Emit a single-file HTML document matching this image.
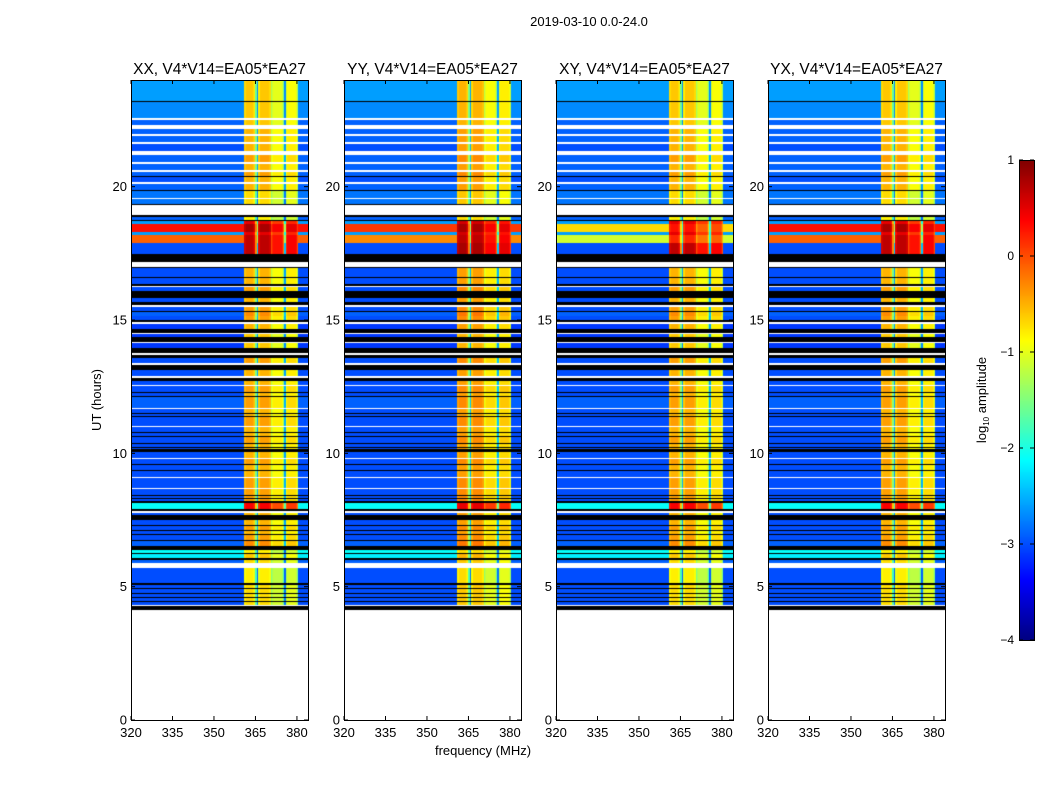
<!DOCTYPE html>
<html><head><meta charset="utf-8">
<style>
body{margin:0;background:#fff;width:1050px;height:800px;overflow:hidden;font-family:"Liberation Sans",sans-serif;}
#wrap{position:relative;width:1050px;height:800px;}
canvas{position:absolute;}
svg{position:absolute;left:0;top:0;}
</style></head>
<body><div id="wrap">
<canvas id="c0" width="177" height="640" style="left:131px;top:80px"></canvas>
<canvas id="c1" width="177" height="640" style="left:344px;top:80px"></canvas>
<canvas id="c2" width="177" height="640" style="left:556px;top:80px"></canvas>
<canvas id="c3" width="177" height="640" style="left:768px;top:80px"></canvas>
<canvas id="cb" width="15" height="480" style="left:1019px;top:160px"></canvas>
<svg id="ax" width="1050" height="800"></svg>
</div>
<script>
const panelTitles=["XX, V4*V14=EA05*EA27","YY, V4*V14=EA05*EA27","XY, V4*V14=EA05*EA27","YX, V4*V14=EA05*EA27"];
const panelLefts=[131,344,556,768];
const xTicks=[320,335,350,365,380];
const yTicks=[0,5,10,15,20];
const cbTicks=[1,0,-1,-2,-3,-4];
const panelHotShift=[0,-0.2,-1.0,0];
const panelBandShift=[0,0.1,0,0];
const bandFreqStart=361;
const bandOffsets=[0.1,0.2,0.2,0.2,0.2,0.2,0.1,0,-0.8,-1.9,0,0.2,0.2,0.2,0.2,0.2,0.2,0.2,0.1,-0.5,-0.3,-0.2,-0.2,-0.2,-0.2,-0.2,-0.2,-0.3,-0.7,-1.9,-0.3,-0.1,-0.1,-0.1,-0.1,-0.1,-0.1,-0.2,-0.5];
// [startHour, endHour, type, bgLevel, bandLevel]
const rowSegments=[
[24.0,23.21,'d',-2.6,-0.8],[23.21,23.18,'k'],[23.18,22.58,'d',-2.7,-0.8],[22.58,22.5,'w'],[22.5,22.31,'d',-2.9,-0.8],
[22.31,22.16,'w'],[22.16,21.98,'d',-2.9,-0.7],[21.98,21.9,'w'],[21.9,21.68,'d',-2.9,-0.7],[21.68,21.6,'w'],
[21.6,21.34,'d',-3.0,-0.7],[21.34,21.19,'w'],[21.19,20.93,'d',-2.9,-0.6],[20.93,20.85,'w'],[20.85,20.63,'d',-2.9,-0.7],
[20.63,20.55,'w'],[20.55,20.4,'d',-2.9,-0.6],[20.4,20.36,'k'],[20.36,20.18,'d',-3.0,-0.7],[20.18,20.1,'w'],
[20.1,19.88,'d',-2.9,-0.7],[19.88,19.84,'k'],[19.84,19.58,'d',-2.8,-0.9],[19.58,19.54,'w'],[19.54,19.35,'d',-2.8,-0.9],
[19.35,19.31,'k'],[19.31,18.94,'w'],[18.94,18.86,'k'],[18.86,18.75,'d',-2.9,-1.0],[18.75,18.71,'k'],
[18.71,18.6,'d',-2.6,0.3],[18.6,18.3,'h',0.3,0.6],[18.3,18.19,'d',-2.6,0.3],[18.19,17.89,'h',-0.1,0.5],
[17.89,17.48,'d',-3.0,0.5],[17.48,17.18,'k'],[17.18,16.99,'w'],[16.99,16.95,'k'],[16.95,16.61,'d',-3.0,-0.7],
[16.61,16.58,'k'],[16.58,16.35,'d',-3.0,-0.7],[16.35,16.28,'k'],[16.28,16.24,'w'],[16.24,16.09,'d',-3.0,-0.6],
[16.09,15.83,'k'],[15.83,15.68,'d',-3.0,-0.7],[15.68,15.56,'k'],[15.56,15.49,'w'],[15.49,15.34,'d',-3.0,-0.6],
[15.34,15.3,'k'],[15.3,15.15,'d',-2.9,-0.5],[15.15,15.0,'d',-3.0,-0.6],[15.0,14.93,'k'],[14.93,14.85,'w'],
[14.85,14.66,'d',-3.1,-0.7],[14.66,14.51,'k'],[14.51,14.48,'w'],[14.48,14.36,'d',-3.1,-0.8],[14.36,14.18,'k'],
[14.18,14.14,'w'],[14.14,13.95,'d',-3.1,-0.8],[13.95,13.76,'k'],[13.76,13.69,'w'],[13.69,13.58,'k'],
[13.58,13.39,'d',-3.0,-0.6],[13.39,13.31,'w'],[13.31,13.13,'k'],[13.13,12.9,'d',-3.0,-0.7],[12.9,12.83,'w'],
[12.83,12.71,'k'],[12.71,12.56,'d',-3.0,-0.7],[12.56,12.53,'w'],[12.53,12.3,'d',-3.0,-0.6],[12.3,12.26,'k'],
[12.26,12.15,'d',-3.0,-0.7],[12.15,12.11,'k'],[12.11,11.7,'d',-2.9,-0.6],[11.7,11.66,'w'],[11.66,11.51,'d',-3.0,-0.7],
[11.51,11.48,'k'],[11.48,11.4,'d',-3.0,-0.7],[11.4,11.36,'k'],[11.36,11.03,'d',-3.0,-0.6],[11.03,10.99,'w'],
[10.99,10.8,'d',-3.0,-0.7],[10.8,10.76,'k'],[10.76,10.65,'d',-3.0,-0.7],[10.65,10.61,'k'],[10.61,10.39,'d',-3.0,-0.6],
[10.39,10.35,'k'],[10.35,10.24,'d',-3.0,-0.7],[10.24,10.2,'k'],[10.2,10.16,'d',-3.0,-0.7],[10.16,10.05,'k'],
[10.05,9.83,'d',-3.0,-0.7],[9.83,9.79,'w'],[9.79,9.6,'d',-3.0,-0.6],[9.6,9.56,'k'],[9.56,9.38,'d',-3.0,-0.7],
[9.38,9.34,'k'],[9.34,9.11,'d',-3.0,-0.7],[9.11,9.08,'w'],[9.08,8.7,'d',-3.0,-0.6],[8.7,8.66,'w'],
[8.66,8.44,'d',-3.0,-0.6],[8.44,8.4,'k'],[8.4,8.33,'d',-3.0,-0.6],[8.33,8.29,'k'],[8.29,8.21,'d',-3.0,-0.6],
[8.21,8.14,'k'],[8.14,7.91,'d',-2.1,0.2],[7.91,7.84,'k'],[7.84,7.76,'w'],[7.76,7.69,'d',-3.0,-0.7],
[7.69,7.5,'k'],[7.5,7.31,'d',-3.0,-0.7],[7.31,7.28,'k'],[7.28,7.13,'d',-3.0,-0.6],[7.13,7.09,'k'],
[7.09,6.98,'d',-3.0,-0.7],[6.98,6.94,'k'],[6.94,6.75,'d',-3.0,-0.6],[6.75,6.71,'k'],[6.71,6.53,'d',-2.9,-0.5],
[6.53,6.38,'k'],[6.38,6.26,'d',-2.1,-1.0],[6.26,6.23,'k'],[6.23,6.08,'d',-2.2,-0.8],[6.08,6.0,'k'],
[6.0,5.89,'d',-2.9,-0.9],[5.89,5.7,'w'],[5.7,5.14,'d',-3.0,-1.0],[5.14,5.06,'k'],[5.06,4.95,'d',-3.0,-0.9],
[4.95,4.91,'k'],[4.91,4.76,'d',-3.0,-0.9],[4.76,4.73,'k'],[4.73,4.61,'d',-3.0,-0.9],[4.61,4.58,'k'],
[4.58,4.46,'d',-3.0,-0.9],[4.46,4.43,'k'],[4.43,4.31,'d',-3.0,-0.9],[4.31,4.28,'w'],[4.28,4.13,'k']
];
const F0=320,F1=384,H0=0,H1=24,PW=177,PH=640,PT=80;
function xs(f){return (f-F0)/(F1-F0)*PW;}
function ys(h){return (H1-h)/(H1-H0)*PH;}
function jet(v){
  let t=(v+4)/5; t=Math.max(0,Math.min(1,t));
  const r=Math.max(0,Math.min(1,1.5-Math.abs(4*t-3)));
  const g=Math.max(0,Math.min(1,1.5-Math.abs(4*t-2)));
  const b=Math.max(0,Math.min(1,1.5-Math.abs(4*t-1)));
  return `rgb(${Math.round(r*255)},${Math.round(g*255)},${Math.round(b*255)})`;
}
for(let p=0;p<4;p++){
  const ctx=document.getElementById('c'+p).getContext('2d');
  ctx.fillStyle='#fff';ctx.fillRect(0,0,PW,PH);
  rowSegments.forEach(s=>{
    const y0=Math.round(ys(s[0])),y1=Math.max(Math.round(ys(s[1])),Math.round(ys(s[0]))+1);
    if(s[2]==='w'){ctx.fillStyle='#fff';ctx.fillRect(0,y0,PW,y1-y0);return;}
    if(s[2]==='k'){ctx.fillStyle='#000';ctx.fillRect(0,y0,PW,y1-y0);return;}
    let bg=s[3],band=s[4]+panelBandShift[p];
    if(s[2]==='h'){bg+=panelHotShift[p];band+=panelHotShift[p]*0.5;}
    ctx.fillStyle=jet(bg);ctx.fillRect(0,y0,PW,y1-y0);
    bandOffsets.forEach((o,i)=>{
      const f=bandFreqStart+i*0.5;
      let v=band+o; if(o<=-1.5) v=Math.min(v,bg+0.6);
      ctx.fillStyle=jet(v);
      const xa=Math.round(xs(f)),xb=Math.round(xs(f+0.5));
      ctx.fillRect(xa,y0,Math.max(1,xb-xa),y1-y0);
    });
  });
}
const cb=document.getElementById('cb').getContext('2d');
for(let i=0;i<480;i++){cb.fillStyle=jet(1-i/480*5);cb.fillRect(0,i,15,1);}
const svg=document.getElementById('ax');
const NS='http://www.w3.org/2000/svg';
function el(tag,attrs,txt){const e=document.createElementNS(NS,tag);for(const k in attrs)e.setAttribute(k,attrs[k]);if(txt!==undefined)e.textContent=txt;svg.appendChild(e);return e;}
let t=el('text',{x:589,y:26,'text-anchor':'middle','font-size':13,fill:'#000'},'2019-03-10 0.0-24.0');


panelLefts.forEach((L,p)=>{
  const fr=el('rect',{x:L+0.5,y:PT+0.5,width:PW,height:PH,fill:'none',stroke:'#000','stroke-width':1});
  
  
  const tt=el('text',{x:L+PW/2,y:74,'text-anchor':'middle','font-size':15.5,fill:'#000'},panelTitles[p]);
  
  
  xTicks.forEach(v=>{
    const x=L+xs(v);
    el('line',{x1:x,y1:PT+PH,x2:x,y2:PT+PH-4,stroke:'#000'});
    el('line',{x1:x,y1:PT,x2:x,y2:PT+4,stroke:'#000'});
    const lb=el('text',{x:x,y:737,'text-anchor':'middle','font-size':13,fill:'#000'},String(v));
    
    
  });
  yTicks.forEach(v=>{
    const y=PT+ys(v);
    el('line',{x1:L,y1:y,x2:L+4,y2:y,stroke:'#000'});
    el('line',{x1:L+PW,y1:y,x2:L+PW-4,y2:y,stroke:'#000'});
    const lb=el('text',{x:L-4,y:y+4.5,'text-anchor':'end','font-size':13,fill:'#000'},String(v));
    
    
  });
});
t=el('text',{x:483,y:755,'text-anchor':'middle','font-size':13,fill:'#000'},'frequency (MHz)');


t=el('text',{x:0,y:0,'text-anchor':'middle','font-size':13,fill:'#000',transform:'translate(101,400) rotate(-90)'},'UT (hours)');


const cf=el('rect',{x:1019.5,y:160.5,width:15,height:480,fill:'none',stroke:'#000'});


cbTicks.forEach(v=>{
  const y=160+(1-v)/5*480;
  el('line',{x1:1019,y1:y,x2:1023,y2:y,stroke:'#000'});
  el('line',{x1:1034,y1:y,x2:1030,y2:y,stroke:'#000'});
  const lb=el('text',{x:1014,y:y+4,'text-anchor':'end','font-size':12,fill:'#000'},v<0?'\u2212'+Math.abs(v):String(v));
  
  
});
t=el('text',{x:0,y:0,'text-anchor':'middle','font-size':13,fill:'#000',transform:'translate(986,400) rotate(-90)'});
t.innerHTML='log<tspan font-size="8" dy="3">10</tspan><tspan dy="-3"> amplitude</tspan>';


</script>
</body></html>
